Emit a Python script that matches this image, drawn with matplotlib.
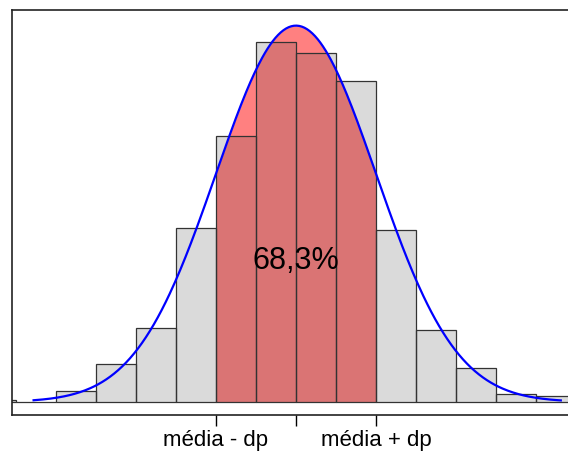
import matplotlib.pyplot as plt
import numpy as np

plt.rcParams['font.family'] = ['Liberation Sans', 'DejaVu Sans']

# histogram of 1000 standardised values, bins of half a standard deviation
bin_edges = np.arange(-4.0, 3.51, 0.5)
counts = [1, 0, 6, 20, 39, 92, 141, 191, 185, 170, 91, 38, 18, 4, 3]
n_total = 1000
curve_from, curve_to = -3.28, 3.31
tick_pos = [-1, 0, 1]
tick_labels = ["média - dp", "", "média + dp"]
pct_text = "68,3%"

bin_w = bin_edges[1] - bin_edges[0]
density = np.array(counts) / (n_total * bin_w)

fig = plt.figure(figsize=(5.68, 4.52), dpi=100)
ax = fig.add_axes([12 / 568, 36 / 452, 572 / 568, 405 / 452])

# shaded area within one standard deviation of the mean
xs = np.linspace(-1, 1, 200)
ax.fill_between(xs, 0, np.exp(-xs**2 / 2) / np.sqrt(2 * np.pi),
                color='#ff8080', linewidth=0, zorder=1)

# translucent grey bars on top of the shading
ax.bar(bin_edges[:-1], density, width=bin_w, align='edge',
       color=(70 / 255, 70 / 255, 70 / 255, 0.2), edgecolor='#333333',
       linewidth=0.9, zorder=2)

x = np.linspace(curve_from, curve_to, 400)
pdf = np.exp(-x**2 / 2) / np.sqrt(2 * np.pi)
ax.plot(x, pdf, color='blue', linewidth=1.6, zorder=3)
ax.text(0, 0.15, pct_text, ha='center', va='center', fontsize=22, zorder=4)

ax.set_xlim(-3.55, 3.6)
ax.set_ylim(-0.0138, 0.4155)
ax.set_xticks(tick_pos)
ax.set_xticklabels(tick_labels, fontsize=16)
ax.set_yticks([])
ax.tick_params(axis='x', length=8, width=1, pad=2)
for s in ax.spines.values():
    s.set_linewidth(1.2)
    s.set_color('#222222')

fig.savefig('out.png', dpi=100)
